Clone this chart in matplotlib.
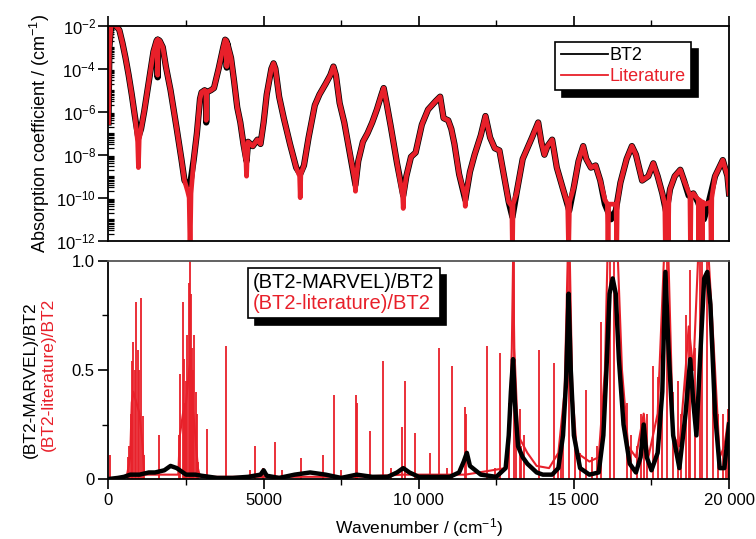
import numpy as np
import matplotlib
matplotlib.use("Agg")
import matplotlib.pyplot as plt
from matplotlib.lines import Line2D
from matplotlib.ticker import FixedLocator, NullFormatter

plt.rcParams['font.family'] = ['Liberation Sans', 'DejaVu Sans']
plt.rcParams['mathtext.fontset'] = 'custom'
plt.rcParams['mathtext.rm'] = 'Liberation Sans'
plt.rcParams['mathtext.default'] = 'regular'

RED = '#e8202a'

# ---------------- top panel data: log10(absorption coefficient) ----------------
bt2_wn = [0, 30, 80, 210, 350, 450, 550, 650, 750, 850, 960, 1050, 1150, 1300, 1450,
          1550, 1575, 1585, 1600, 1650, 1750, 1850, 2000, 2200, 2350, 2450, 2550, 2650,
          2750, 2850, 2950, 3000, 3100, 3140, 3150, 3160, 3300, 3400, 3550, 3700, 3760,
          3800, 3812, 3825, 3950, 4050, 4150, 4250, 4350, 4450, 4500, 4650, 4800, 4900,
          5000, 5100, 5250, 5320, 5380, 5500, 5650, 5850, 6050, 6180, 6300, 6450, 6650,
          6800, 7000, 7150, 7250, 7330, 7450, 7600, 7750, 7900, 7960, 8050, 8200, 8350,
          8500, 8650, 8800, 8870, 8950, 9100, 9300, 9500, 9600, 9750, 9900, 10100, 10300,
          10550, 10690, 10800, 10950, 11050, 11150, 11300, 11500, 11650, 11800, 12000,
          12150, 12300, 12450, 12600, 12750, 12900, 13020, 13150, 13350, 13650, 13850,
          13950, 14050, 14150, 14300, 14450, 14650, 14850, 15000, 15150, 15300, 15400,
          15550, 15700, 15850, 16000, 16200, 16350, 16500, 16700, 16870, 17000, 17200,
          17400, 17560, 17700, 17850, 17980, 18100, 18250, 18430, 18550, 18700, 18850,
          19000, 19190, 19350, 19550, 19800, 19950, 20000]
bt2_log = [-6.5, -3.0, -2.0, -1.95, -2.2, -2.8, -3.5, -4.3, -5.2, -6.2, -7.2, -6.8, -6.0, -4.6, -3.2,
           -2.7, -2.65, -4.4, -2.65, -2.7, -3.0, -3.9, -5.0, -6.8, -8.2, -9.2, -9.4, -9.2,
           -8.2, -7.0, -5.4, -5.1, -5.0, -5.1, -6.5, -5.1, -5.0, -4.9, -4.0, -3.0, -2.65,
           -2.7, -3.95, -2.8, -3.5, -4.6, -5.8, -6.5, -7.5, -8.3, -7.4, -7.6, -7.3, -7.5,
           -6.5, -5.2, -4.0, -3.75, -4.0, -5.3, -6.3, -7.5, -8.6, -8.9, -8.5, -7.2, -5.7,
           -5.2, -4.7, -4.3, -3.9, -4.3, -5.6, -6.5, -7.7, -8.9, -9.4, -8.3, -7.4, -7.0,
           -6.5, -5.9, -5.2, -4.9, -5.5, -6.7, -8.4, -9.9, -9.0, -8.1, -7.9, -6.6, -5.9,
           -5.5, -5.3, -6.3, -6.4, -6.8, -7.5, -8.9, -10.1, -8.8, -8.0, -7.1,
           -6.2, -7.2, -7.7, -7.8, -9.0, -10.2, -10.9, -9.8, -8.2, -7.2, -6.5,
           -7.4, -8.0, -7.6, -7.3, -8.6, -9.6, -10.6, -9.5, -8.3, -7.6, -8.2,
           -8.6, -8.5, -9.2, -10.3, -11.0, -10.6, -9.3, -8.2, -7.6, -8.0, -9.2,
           -9.0, -8.4, -9.0, -9.8, -10.7, -9.6, -9.0, -8.7, -9.2, -9.9, -9.8,
           -10.2, -11.0, -10.2, -9.0, -8.25, -9.0, -9.8]

lit_wn = [0, 30, 80, 210, 350, 450, 550, 650, 750, 850, 940, 965, 990, 1050, 1150, 1300, 1450,
          1550, 1575, 1585, 1600, 1650, 1750, 1850, 2000, 2200, 2350, 2450, 2550, 2600, 2630,
          2660, 2750, 2850, 2950, 3000, 3100, 3140, 3150, 3160, 3300, 3400, 3550, 3700, 3760,
          3800, 3812, 3825, 3950, 4050, 4150, 4250, 4350, 4430, 4450, 4470, 4500, 4650, 4800,
          4900, 5000, 5100, 5250, 5320, 5380, 5500, 5650, 5850, 6050, 6160, 6180, 6200, 6300,
          6450, 6650, 6800, 7000, 7150, 7250, 7330, 7450, 7600, 7750, 7900, 7940, 7960, 7980,
          8050, 8200, 8350, 8500, 8650, 8800, 8870, 8950, 9100, 9300, 9480, 9500, 9520, 9600,
          9750, 9900, 10100, 10300, 10550, 10690, 10800, 10950, 11050, 11150, 11300, 11480,
          11500, 11520, 11650, 11800, 12000, 12150, 12300, 12450, 12600, 12750, 12900, 13000,
          13020, 13040, 13150, 13350, 13650, 13850, 13950, 14050, 14150, 14300, 14450, 14650,
          14800, 14830, 14860, 15000, 15150, 15300, 15400, 15550, 15700, 15850, 16000, 16080,
          16100, 16120, 16200, 16360, 16380, 16400, 16500, 16700, 16870, 17000, 17200, 17400,
          17560, 17700, 17850, 17930, 17950, 17970, 18020, 18040, 18060, 18100, 18250, 18430,
          18550, 18740, 18758, 18776, 18850, 19010, 19027, 19045, 19115, 19135, 19155, 19250,
          19405, 19425, 19445, 19550, 19800, 19950, 20000]
lit_log = [-6.5, -3.0, -2.0, -1.95, -2.2, -2.8, -3.5, -4.3, -5.2, -6.2, -7.4, -8.6, -7.3, -6.8, -6.0, -4.6, -3.2,
           -2.7, -2.65, -4.3, -2.65, -2.7, -3.0, -3.9, -5.0, -6.8, -8.2, -9.2, -9.7, -10.0, -12.5,
           -9.8, -8.2, -7.0, -5.4, -5.1, -5.0, -5.1, -6.4, -5.1, -5.0, -4.9, -4.0, -3.0, -2.65,
           -2.7, -3.9, -2.8, -3.5, -4.6, -5.8, -6.5, -7.5, -8.3, -9.0, -8.2, -7.4, -7.6, -7.3,
           -7.5, -6.5, -5.2, -4.0, -3.75, -4.0, -5.3, -6.3, -7.5, -8.6, -9.0, -10.0, -8.9, -8.5,
           -7.2, -5.7, -5.2, -4.7, -4.3, -3.9, -4.3, -5.6, -6.5, -7.7, -8.9, -9.2, -9.7, -9.2,
           -8.3, -7.4, -7.0, -6.5, -5.9, -5.2, -4.9, -5.5, -6.7, -8.4, -9.9, -10.5, -9.8, -9.0,
           -8.1, -7.9, -6.6, -5.9, -5.5, -5.3, -6.3, -6.4, -6.8, -7.5, -8.9, -9.9,
           -10.4, -9.9, -8.8, -8.0, -7.1, -6.2, -7.2, -7.7, -7.8, -9.0, -10.2, -10.4,
           -12.5, -10.3, -9.8, -8.2, -7.2, -6.5, -7.4, -8.0, -7.6, -7.3, -8.6, -9.6,
           -10.3, -12.5, -10.2, -9.5, -8.3, -7.6, -8.2, -8.6, -8.5, -9.2, -10.1, -10.3,
           -12.5, -10.3, -10.3, -10.3, -12.5, -10.2, -9.3, -8.2, -7.6, -8.0, -9.2, -9.0,
           -8.4, -9.0, -9.8, -10.3, -12.5, -10.3, -10.3, -12.5, -10.2, -9.6, -9.0, -8.7,
           -9.2, -9.9, -12.5, -9.9, -9.8, -10.1, -12.5, -10.1, -10.2, -12.5, -10.2, -10.3,
           -10.2, -12.5, -10.0, -9.0, -8.25, -9.0, -9.8]

# ---------------- bottom panel data ----------------
marvel_wn = [0, 300, 500, 700, 1000, 1300, 1500, 1800, 2000, 2200, 2500, 2800, 3000, 3500,
             4000, 4500, 4900, 5000, 5100, 5500, 6000, 6500, 7000, 7500, 8000, 8500, 9000,
             9300, 9500, 9700, 10000, 10500, 11000, 11300, 11450, 11550, 11650, 12000, 12500,
             12800, 12900, 12970, 13040, 13100, 13200, 13350, 13500, 13800, 14000, 14300,
             14500, 14650, 14750, 14830, 14900, 15000, 15200, 15500, 15800, 15950, 16050,
             16150, 16250, 16350, 16450, 16600, 16800, 17000, 17150, 17250, 17350, 17500,
             17700, 17850, 17950, 18050, 18200, 18400, 18600, 18750, 18850, 18950, 19050,
             19200, 19300, 19400, 19550, 19700, 19850, 20000]
marvel_val = [0.0, 0.005, 0.01, 0.02, 0.02, 0.03, 0.03, 0.04, 0.06, 0.05, 0.02, 0.02, 0.015, 0.005,
              0.005, 0.01, 0.02, 0.04, 0.015, 0.005, 0.02, 0.03, 0.02, 0.005, 0.02, 0.01, 0.01,
              0.03, 0.05, 0.03, 0.01, 0.01, 0.01, 0.03, 0.08, 0.12, 0.06, 0.02, 0.01,
              0.05, 0.2, 0.4, 0.55, 0.35, 0.15, 0.1, 0.07, 0.03, 0.02, 0.02,
              0.05, 0.2, 0.45, 0.85, 0.5, 0.2, 0.05, 0.02, 0.03, 0.2, 0.5,
              0.85, 0.92, 0.85, 0.55, 0.25, 0.07, 0.03, 0.1, 0.25, 0.1, 0.04,
              0.12, 0.4, 0.95, 0.6, 0.2, 0.05, 0.3, 0.55, 0.35, 0.2, 0.5,
              0.92, 0.95, 0.8, 0.3, 0.05, 0.05, 0.25]

lit_base_wn = [0, 500, 600, 700, 750, 800, 900, 1000, 1100, 1150, 1500, 2000, 2250, 2300, 2400,
               2500, 2600, 2650, 2700, 2800, 2880, 2950, 4000, 8000, 9500, 11500, 12800, 12900,
               13000, 13040, 13080, 13200, 13500, 13800, 14200, 14500, 14700, 14800, 14870,
               14950, 15100, 15500, 15800, 16000, 16080, 16420, 16550, 16750, 17000, 17250,
               17400, 17700, 17900, 18050, 18200, 18400, 18600, 18700, 18850, 19000, 19350,
               19550, 19700, 19850, 20000]
lit_base_val = [0.0, 0.01, 0.02, 0.1, 0.35, 0.4, 0.35, 0.3, 0.15, 0.02, 0.02, 0.02, 0.02, 0.2, 0.3,
                0.35, 0.5, 0.55, 0.35, 0.2, 0.05, 0.01, 0.01, 0.01, 0.02, 0.02, 0.05, 0.1,
                0.6, 1.0, 0.6, 0.2, 0.12, 0.06, 0.05, 0.12, 0.4, 1.0, 1.0,
                0.4, 0.12, 0.08, 0.1, 0.5, 1.0, 1.0, 0.5, 0.15, 0.1, 0.3,
                0.1, 0.3, 1.0, 1.0, 0.2, 0.15, 0.5, 0.7, 0.5, 1.0, 1.0,
                0.5, 0.1, 0.15, 0.3]

spike_wn = [50, 640, 672, 715, 747, 801, 844, 887, 941, 995, 1059, 1102, 1156, 1640,
            2285, 2306, 2392, 2435, 2467, 2500, 2543, 2586, 2629, 2661, 2694, 2737, 2769,
            2812, 2844, 2898, 3188, 3790, 4550, 4726, 4980, 5371, 5600, 6210, 6909, 7274,
            7500, 7985, 8010, 8413, 8845, 9100, 9450, 9542, 9865, 10371, 10652, 10900, 11071,
            11480, 11530, 12200, 12450, 12606, 12900, 13058, 13150, 13250, 13300, 13400,
            13865, 14348, 14500, 14600, 14650, 14832, 15050, 15200, 15403, 15600, 15750,
            15877, 16150, 16300, 16700, 16850, 17050, 17150, 17250, 17350, 17555, 17700,
            17850, 17990, 18200, 18350, 18450, 18600, 18700, 18758, 18900, 19080, 19135,
            19280, 19500, 19650, 19800, 19900, 19980]
spike_h = [0.11, 0.1, 0.15, 0.3, 0.54, 0.63, 0.5, 0.81, 0.59, 0.5, 0.83, 0.29, 0.11, 0.2,
           0.2, 0.48, 0.81, 0.55, 0.35, 0.45, 0.66, 0.9, 1.0, 0.85, 0.6, 0.5, 0.66,
           0.4, 0.3, 0.08, 0.23, 0.61, 0.04, 0.15, 0.05, 0.17, 0.04, 0.095, 0.11, 0.385,
           0.04, 0.385, 0.35, 0.22, 0.54, 0.05, 0.24, 0.45, 0.21, 0.12, 0.6, 0.05, 0.52,
           0.33, 0.3, 0.61, 0.05, 0.58, 0.35, 1.0, 0.25, 0.32, 0.15, 0.2,
           0.59, 0.53, 0.12, 0.1, 0.2, 1.0, 0.2, 0.12, 0.41, 0.1, 0.15,
           0.72, 1.0, 1.0, 0.35, 0.2, 0.15, 0.3, 0.3, 0.3, 0.52, 0.47,
           0.47, 1.0, 0.4, 0.45, 0.3, 0.75, 0.7, 0.96, 0.6, 1.0, 1.0,
           1.0, 0.5, 0.3, 0.3, 0.2, 0.32]

xticks = [0, 5000, 10000, 15000, 20000]
xtick_labels = ['0', '5000', '10 000', '15 000', '20 000']
ytop_ticks = [1e-12, 1e-10, 1e-8, 1e-6, 1e-4, 1e-2]
ytop_labels = ['$10^{-12}$', '$10^{-10}$', '$10^{-8}$', '$10^{-6}$', '$10^{-4}$', '$10^{-2}$']
ybot_ticks = [0, 0.5, 1.0]
ybot_labels = ['0', '0.5', '1.0']

# ---------------- figure ----------------
fig = plt.figure(figsize=(7.56, 5.39), dpi=100)
ax1 = fig.add_axes([0.1435, 0.5534, 0.8208, 0.3989])
ax2 = fig.add_axes([0.1435, 0.1113, 0.8208, 0.4045])

FS = 12

# top panel
ax1.plot(bt2_wn, 10.0 ** np.array(bt2_log), color='black', lw=4.5, label='BT2')
ax1.plot(lit_wn, 10.0 ** np.array(lit_log), color=RED, lw=3.4, label='Literature')
ax1.set_yscale('log')
ax1.set_xlim(0, 20000)
ax1.set_ylim(1e-12, 1e-2)
ax1.yaxis.set_major_locator(FixedLocator(ytop_ticks))
ax1.set_yticklabels(ytop_labels)
minors = [k * 10.0 ** e for e in range(-12, -2) for k in range(1, 10) if not (k == 1 and e % 2 == 0)]
ax1.yaxis.set_minor_locator(FixedLocator(minors))
ax1.yaxis.set_minor_formatter(NullFormatter())
ax1.tick_params(axis='y', which='major', direction='out', length=7, width=1.2, labelsize=FS, pad=2)
ax1.tick_params(axis='y', which='minor', direction='in', length=4, width=0.9)
ax1.xaxis.set_ticks_position('top')
ax1.set_xticks(xticks)
ax1.set_xticks([2500, 7500, 12500, 17500], minor=True)
ax1.tick_params(axis='x', which='major', direction='out', length=7, width=1.2, labeltop=False, labelbottom=False)
ax1.tick_params(axis='x', which='minor', direction='out', length=4, width=1.0)
for s in ax1.spines.values():
    s.set_linewidth(1.3)
ax1.set_ylabel('Absorption coefficient / (cm$^{-1}$)', fontsize=13, labelpad=3)

leg1 = ax1.legend(loc='upper right', bbox_to_anchor=(0.939, 0.924), borderaxespad=0,
                  fontsize=FS + 1, frameon=True, fancybox=False, handlelength=2.6,
                  handletextpad=0.1, borderpad=0.3, labelspacing=0.2,
                  edgecolor='black', framealpha=1,
                  shadow={'ox': 5, 'oy': -5, 'color': 'black', 'alpha': 1})
leg1.get_frame().set_linewidth(1.2)
for t, c in zip(leg1.get_texts(), ['black', RED]):
    t.set_color(c)
for h in leg1.get_lines():
    h.set_linewidth(1.3)

# bottom panel
ax2.plot(lit_base_wn, lit_base_val, color=RED, lw=1.5)
ax2.vlines(spike_wn, 0, spike_h, color=RED, lw=1.3)
ax2.plot(marvel_wn, marvel_val, color='black', lw=3.2)
ax2.set_xlim(0, 20000)
ax2.set_ylim(0, 1.0)
ax2.set_xticks(xticks)
ax2.set_xticklabels(xtick_labels)
ax2.set_xticks([2500, 7500, 12500, 17500], minor=True)
ax2.set_yticks(ybot_ticks)
ax2.set_yticklabels(ybot_labels)
ax2.set_yticks([0.25, 0.75], minor=True)
ax2.tick_params(axis='both', which='major', direction='out', length=7, width=1.2, labelsize=FS, pad=3)
ax2.tick_params(axis='both', which='minor', direction='out', length=4, width=1.0)
for s in ax2.spines.values():
    s.set_linewidth(1.3)
ax2.spines['top'].set_color('#555555')
ax2.set_xlabel('Wavenumber / (cm$^{-1}$)', fontsize=FS + 0.5, labelpad=6)

h_black = Line2D([], [], linestyle='none')
h_red = Line2D([], [], linestyle='none')
leg2 = ax2.legend([h_black, h_red], ['(BT2-MARVEL)/BT2', '(BT2-literature)/BT2'],
                  loc='upper left', bbox_to_anchor=(0.225, 0.968), borderaxespad=0,
                  fontsize=14.5, frameon=True, fancybox=False, handlelength=0,
                  handletextpad=0, borderpad=0.25, labelspacing=0.1,
                  edgecolor='black', framealpha=1,
                  shadow={'ox': 5, 'oy': -5, 'color': 'black', 'alpha': 1})
leg2.get_frame().set_linewidth(1.2)
for t, c in zip(leg2.get_texts(), ['black', RED]):
    t.set_color(c)

fig.text(0.040, 0.296, '(BT2-MARVEL)/BT2', rotation=90, ha='center', va='center',
         fontsize=FS + 0.5, color='black')
fig.text(0.064, 0.305, '(BT2-literature)/BT2', rotation=90, ha='center', va='center',
         fontsize=FS + 0.5, color=RED)

fig.savefig('out.png', dpi=100)
